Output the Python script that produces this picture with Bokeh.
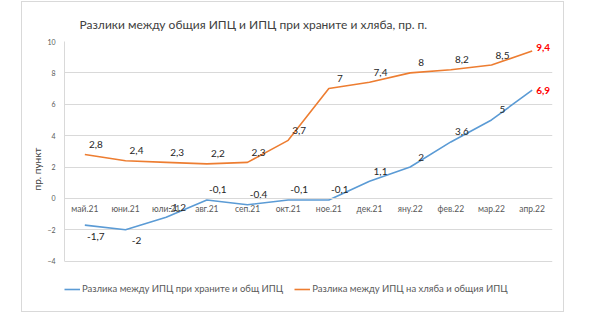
from bokeh.plotting import figure
from bokeh.models import ColumnDataSource, FactorRange, FixedTicker, Range1d, Legend, LegendItem, Title
from bokeh.core.properties import value
from bokeh.embed import file_html
from bokeh.resources import INLINE

months = ["май.21", "юни.21", "юли.21", "авг.21", "сеп.21", "окт.21",
          "ное.21", "дек.21", "яну.22", "фев.22", "мар.22", "апр.22"]
food_diff = [-1.7, -2.0, -1.2, -0.1, -0.4, -0.1, -0.1, 1.1, 2.0, 3.6, 5.0, 6.9]
bread_diff = [2.8, 2.4, 2.3, 2.2, 2.3, 3.7, 7.0, 7.4, 8.0, 8.2, 8.5, 9.4]
y_ticks = [-4, -2, 0, 2, 4, 6, 8, 10]

food_name = "Разлика между ИПЦ при храните и общ ИПЦ"
bread_name = "Разлика между ИПЦ на хляба и общия ИПЦ"
title_text = "Разлики между общия ИПЦ и ИПЦ при храните и хляба, пр. п."

BLUE = "#5B9BD5"
ORANGE = "#ED7D31"
FONT = "Lato"

def fmt(v):
    return f"{v:g}".replace(".", ",")

# frame extends below -4 to leave room for the legend inside it
p = figure(x_range=FactorRange(*months, range_padding=0), y_range=Range1d(-6.25, 10),
           width=543, height=311, output_backend="svg", toolbar_location=None,
           min_border_left=42, min_border_right=13, min_border_top=39, min_border_bottom=17)
p.margin = (1, 0, 0, 21)
p.styles = {"border": "1px solid #d9d9d9"}
p.outline_line_color = None
p.background_fill_color = "white"

t = Title(text=title_text, align="left", offset=15, standoff=20, text_font=FONT,
          text_font_size="12px", text_font_style="normal", text_color="#404040")
p.add_layout(t, "above")

# grid
p.xgrid.grid_line_color = None
p.ygrid.ticker = FixedTicker(ticks=y_ticks)
p.ygrid.grid_line_color = "#d9d9d9"
p.ygrid.grid_line_width = 1

# y axis
p.yaxis.ticker = FixedTicker(ticks=y_ticks)
p.yaxis.bounds = (y_ticks[0], y_ticks[-1])
p.yaxis.major_label_text_font = FONT
p.yaxis.major_label_text_font_size = "7px"
p.yaxis.major_label_text_color = "#595959"
p.yaxis.major_tick_line_color = None
p.yaxis.minor_tick_line_color = None
p.yaxis.major_tick_out = 0
p.yaxis.axis_line_color = "#d9d9d9"
p.yaxis.major_label_standoff = 9
p.yaxis.axis_label = "пр. пункт"
p.yaxis.axis_label_text_font = FONT
p.yaxis.axis_label_text_font_size = "10px"
p.yaxis.axis_label_text_font_style = "normal"
p.yaxis.axis_label_text_color = "#404040"
p.yaxis.axis_label_standoff = 1

# x axis drawn at y = 0
p.xaxis.fixed_location = 0
p.xaxis.major_label_text_font = FONT
p.xaxis.major_label_text_font_size = "8.5px"
p.xaxis.major_label_text_color = "#595959"
p.xaxis.major_tick_line_color = None
p.xaxis.minor_tick_line_color = None
p.xaxis.major_tick_out = 0
p.xaxis.major_tick_in = 0
p.xaxis.axis_line_color = "#d9d9d9"
p.xaxis.major_label_standoff = 6

src = ColumnDataSource(dict(m=months, food=food_diff, bread=bread_diff))

lf = p.line("m", "food", source=src, line_color=BLUE, line_width=1.6)
lb = p.line("m", "bread", source=src, line_color=ORANGE, line_width=1.6)

n = len(months)
food_dy = [-10 if i >= 2 else 11 for i in range(n)]

p.text("m", "bread", text="lbl",
       source=ColumnDataSource(dict(m=months[:-1], bread=bread_diff[:-1],
                                    lbl=[fmt(v) for v in bread_diff[:-1]])),
       x_offset=11, y_offset=-10, text_align="center", text_baseline="middle",
       text_font=value(FONT), text_font_size="10px", text_color="#262626")
p.text("m", "food", text="lbl",
       source=ColumnDataSource(dict(m=months[:-1], food=food_diff[:-1],
                                    lbl=[fmt(v) for v in food_diff[:-1]],
                                    dy=food_dy[:-1])),
       x_offset=11, y_offset="dy", text_align="center", text_baseline="middle",
       text_font=value(FONT), text_font_size="10px", text_color="#262626")
p.text(x=[months[-1]], y=[bread_diff[-1]], text=[fmt(bread_diff[-1])],
       x_offset=4, y_offset=-3, text_align="left", text_baseline="middle",
       text_font=value(FONT), text_font_size="10px", text_font_style="bold", text_color="#FF0000")
p.text(x=[months[-1]], y=[food_diff[-1]], text=[fmt(food_diff[-1])],
       x_offset=4, y_offset=0, text_align="left", text_baseline="middle",
       text_font=value(FONT), text_font_size="10px", text_font_style="bold", text_color="#FF0000")

legend = Legend(items=[LegendItem(label=food_name, renderers=[lf]),
                       LegendItem(label=bread_name, renderers=[lb])],
                orientation="horizontal", location=(0, 2),
                label_text_font=FONT, label_text_font_size="9.5px", label_text_color="#595959",
                glyph_width=16, glyph_height=10, spacing=11, padding=0, margin=0,
                label_standoff=2, border_line_color=None, background_fill_alpha=0)
p.add_layout(legend, "center")

open("out.html", "w").write(file_html(p, INLINE))
